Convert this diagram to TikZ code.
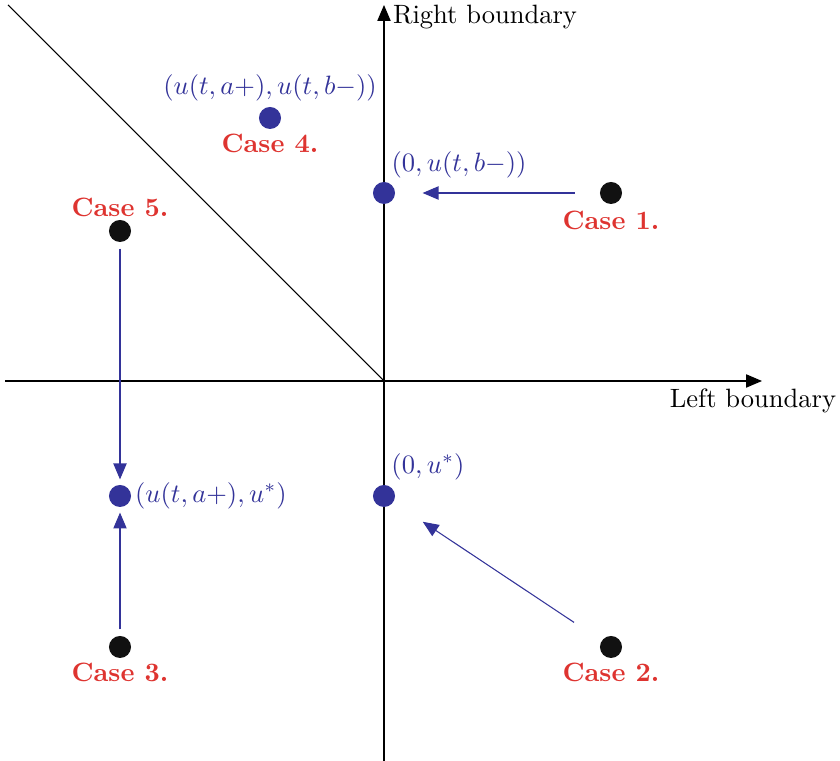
\documentclass[tikz,border=0pt]{standalone}
\usetikzlibrary{arrows.meta}
\definecolor{ptblue}{RGB}{51,51,153}
\definecolor{casered}{RGB}{222,52,48}
\definecolor{dotblack}{RGB}{17,17,17}
\begin{document}
\begin{tikzpicture}[
  x=0.377pt, y=-0.377pt,
  dot/.style={circle, fill=dotblack, inner sep=0pt, minimum size=8.3pt},
  bdot/.style={dot, fill=ptblue},
  case/.style={text=casered, font=\bfseries, inner sep=0pt},
  plabel/.style={text=ptblue, inner sep=0pt},
  axis/.style={draw, -{Triangle[length=6pt,width=5pt]}},
  flow/.style={draw=ptblue, -{Triangle[length=6pt,width=5pt]}}
]
\useasboundingbox (0,0) rectangle (840,761);
\coordinate (O) at (384,381);
\coordinate (xl) at (5,381);
\coordinate (xr) at (762,381);
\coordinate (yb) at (384,761);
\coordinate (yt) at (384,5);
\coordinate (diag) at (8,5);
\draw[axis] (xl) -- (xr);
\draw[axis] (yb) -- (yt);
\draw (diag) -- (O);
\node[inner sep=0pt] (rb) at (485,17) {Right boundary};
\node[inner sep=0pt] (lb) at (753,401) {Left boundary};

\node[dot] (c1) at (611,193) {};
\node[dot] (c2) at (611,647) {};
\node[dot] (c3) at (120,647) {};
\node[bdot] (c4) at (270,118) {};
\node[dot] (c5) at (120,231) {};
\node[bdot] (p1) at (384,193) {};
\node[bdot] (p2) at (384,496) {};
\node[bdot] (p3) at (120,496) {};

\node[case] (l1) at (611,220) {Case 1.};
\node[case] (l2) at (611,672) {Case 2.};
\node[case] (l3) at (120,672) {Case 3.};
\node[case] (l4) at (270,143) {Case 4.};
\node[case] (l5) at (120,207) {Case 5.};
\node[plabel] (t1) at (459,165) {$(0,u(t,b-))$};
\node[plabel] (t2) at (428,467) {$(0,u^*)$};
\node[plabel] (t3) at (211,496) {$(u(t,a+),u^*)$};
\node[plabel] (t4) at (270,88) {$(u(t,a+),u(t,b-))$};

\draw[flow, shorten <=9.4pt, shorten >=10.2pt] (c1) -- (p1);
\draw[flow, shorten <=12.4pt, shorten >=13.2pt] (c2) -- (p2);
\draw[flow, shorten <=2.3pt, shorten >=1.9pt] (c3) -- (p3);
\draw[flow, shorten <=2.3pt, shorten >=1.9pt] (c5) -- (p3);
\end{tikzpicture}
\end{document}
